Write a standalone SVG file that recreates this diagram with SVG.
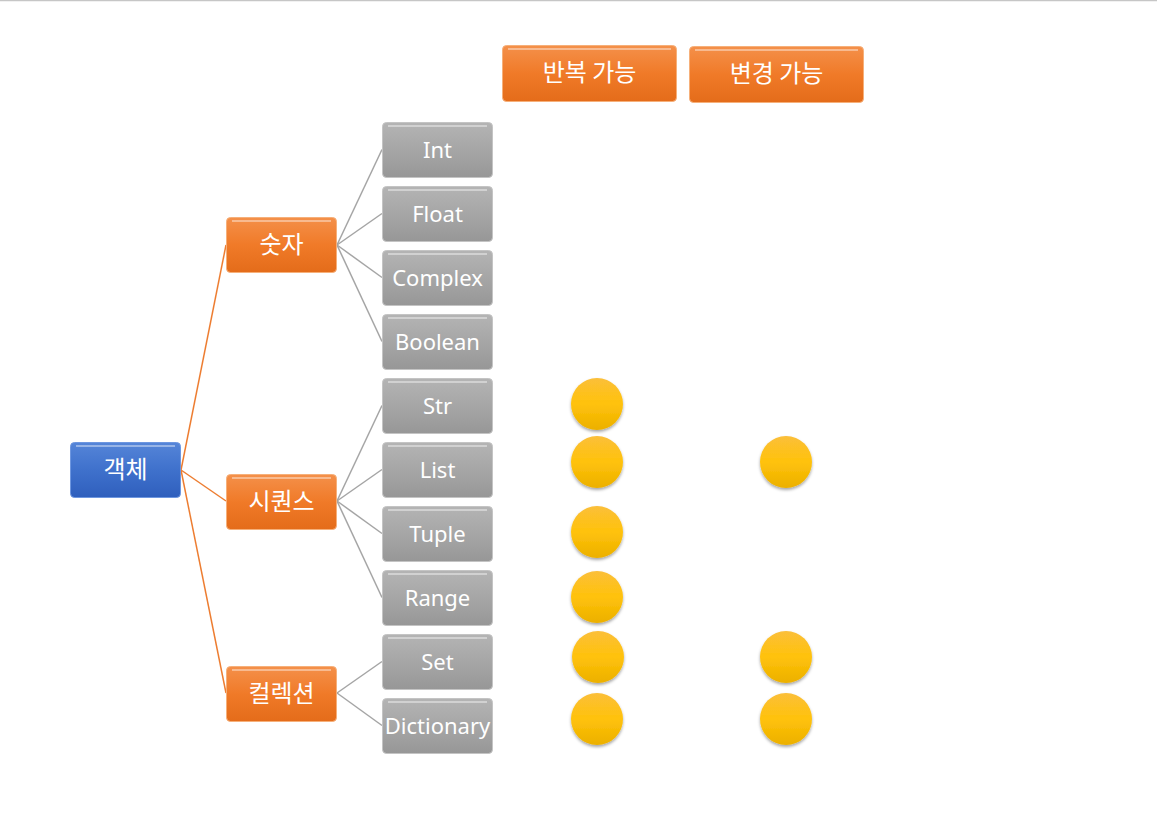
<svg xmlns="http://www.w3.org/2000/svg" width="1157" height="819" viewBox="0 0 1157 819">
<defs>
<linearGradient id="gO" x1="0" y1="0" x2="0" y2="1">
<stop offset="0" stop-color="#f4904a"/><stop offset="0.5" stop-color="#f07a28"/><stop offset="1" stop-color="#e46c1a"/>
</linearGradient>
<linearGradient id="gG" x1="0" y1="0" x2="0" y2="1">
<stop offset="0" stop-color="#b4b4b4"/><stop offset="0.5" stop-color="#a6a6a6"/><stop offset="1" stop-color="#979797"/>
</linearGradient>
<linearGradient id="gB" x1="0" y1="0" x2="0" y2="1">
<stop offset="0" stop-color="#5585d8"/><stop offset="0.5" stop-color="#3f71cc"/><stop offset="1" stop-color="#2f5fbd"/>
</linearGradient>
<linearGradient id="gY" x1="0" y1="0" x2="0" y2="1">
<stop offset="0" stop-color="#fbbf3a"/><stop offset="0.5" stop-color="#ffc20a"/><stop offset="1" stop-color="#ecb000"/>
</linearGradient>
<filter id="sh" x="-30%" y="-30%" width="160%" height="170%">
<feDropShadow dx="0" dy="2" stdDeviation="1.8" flood-color="#000" flood-opacity="0.35"/>
</filter>
</defs>
<style>
.o{fill:url(#gO);stroke:#f6b07a;stroke-width:1}
.g{fill:url(#gG);stroke:#c4c4c4;stroke-width:1}
.b{fill:url(#gB);stroke:#6e97e0;stroke-width:1}
.hl{fill:none;stroke:#ffffff;stroke-opacity:0.4;stroke-width:2}
.t{font-family:"Noto Sans","Noto Sans CJK KR",sans-serif;font-size:22px;fill:#ffffff;text-anchor:middle}
.k{font-family:"Noto Sans CJK KR","Noto Sans",sans-serif;font-size:24px;fill:#ffffff;text-anchor:middle}
.lo{stroke:#ed7d31;stroke-width:1.5;fill:none}
.lg{stroke:#a5a5a5;stroke-width:1.5;fill:none}
.c{fill:url(#gY);filter:url(#sh)}
</style>
<line x1="0" y1="0.5" x2="1157" y2="0.5" stroke="#c6c6c6" stroke-width="1.5"/>
<g id="connectors">
<line class="lo" x1="181" y1="470" x2="226" y2="245"/>
<line class="lo" x1="181" y1="470" x2="226" y2="501"/>
<line class="lo" x1="181" y1="470" x2="226" y2="693"/>
<line class="lg" x1="337" y1="245" x2="382" y2="149.5"/>
<line class="lg" x1="337" y1="245" x2="382" y2="213.5"/>
<line class="lg" x1="337" y1="245" x2="382" y2="277.5"/>
<line class="lg" x1="337" y1="245" x2="382" y2="341.5"/>
<line class="lg" x1="337" y1="501" x2="382" y2="405.5"/>
<line class="lg" x1="337" y1="501" x2="382" y2="469.5"/>
<line class="lg" x1="337" y1="501" x2="382" y2="533.5"/>
<line class="lg" x1="337" y1="501" x2="382" y2="597.5"/>
<line class="lg" x1="337" y1="693" x2="382" y2="661.5"/>
<line class="lg" x1="337" y1="693" x2="382" y2="725.5"/>
</g>
<g id="n-obj"><rect class="b" x="70.5" y="442.5" width="110" height="55" rx="4"/><line class="hl" x1="76" y1="446" x2="175" y2="446"/><text class="k" x="125.5" y="478">객체</text></g>
<g id="n-num"><rect class="o" x="226.5" y="217.5" width="110" height="55" rx="4"/><line class="hl" x1="232" y1="221" x2="331" y2="221"/><text class="k" x="281.5" y="253">숫자</text></g>
<g id="n-seq"><rect class="o" x="226.5" y="474.5" width="110" height="55" rx="4"/><line class="hl" x1="232" y1="478" x2="331" y2="478"/><text class="k" x="281.5" y="510">시퀀스</text></g>
<g id="n-col"><rect class="o" x="226.5" y="666.5" width="110" height="55" rx="4"/><line class="hl" x1="232" y1="670" x2="331" y2="670"/><text class="k" x="281.5" y="702">컬렉션</text></g>
<g id="n-iter"><rect class="o" x="502.5" y="45.5" width="174" height="56" rx="4"/><line class="hl" x1="508" y1="49" x2="671" y2="49"/><text class="k" x="589.5" y="81">반복 가능</text></g>
<g id="n-mut"><rect class="o" x="689.5" y="46.5" width="174" height="56" rx="4"/><line class="hl" x1="695" y1="50" x2="858" y2="50"/><text class="k" x="776.5" y="82">변경 가능</text></g>
<g id="n-int"><rect class="g" x="382.5" y="122.5" width="110" height="55" rx="4"/><line class="hl" x1="388" y1="126" x2="487" y2="126"/><text class="t" x="437.5" y="158">Int</text></g>
<g id="n-float"><rect class="g" x="382.5" y="186.5" width="110" height="55" rx="4"/><line class="hl" x1="388" y1="190" x2="487" y2="190"/><text class="t" x="437.5" y="222">Float</text></g>
<g id="n-complex"><rect class="g" x="382.5" y="250.5" width="110" height="55" rx="4"/><line class="hl" x1="388" y1="254" x2="487" y2="254"/><text class="t" x="437.5" y="286">Complex</text></g>
<g id="n-bool"><rect class="g" x="382.5" y="314.5" width="110" height="55" rx="4"/><line class="hl" x1="388" y1="318" x2="487" y2="318"/><text class="t" x="437.5" y="350">Boolean</text></g>
<g id="n-str"><rect class="g" x="382.5" y="378.5" width="110" height="55" rx="4"/><line class="hl" x1="388" y1="382" x2="487" y2="382"/><text class="t" x="437.5" y="414">Str</text></g>
<g id="n-list"><rect class="g" x="382.5" y="442.5" width="110" height="55" rx="4"/><line class="hl" x1="388" y1="446" x2="487" y2="446"/><text class="t" x="437.5" y="478">List</text></g>
<g id="n-tuple"><rect class="g" x="382.5" y="506.5" width="110" height="55" rx="4"/><line class="hl" x1="388" y1="510" x2="487" y2="510"/><text class="t" x="437.5" y="542">Tuple</text></g>
<g id="n-range"><rect class="g" x="382.5" y="570.5" width="110" height="55" rx="4"/><line class="hl" x1="388" y1="574" x2="487" y2="574"/><text class="t" x="437.5" y="606">Range</text></g>
<g id="n-set"><rect class="g" x="382.5" y="634.5" width="110" height="55" rx="4"/><line class="hl" x1="388" y1="638" x2="487" y2="638"/><text class="t" x="437.5" y="670">Set</text></g>
<g id="n-dict"><rect class="g" x="382.5" y="698.5" width="110" height="55" rx="4"/><line class="hl" x1="388" y1="702" x2="487" y2="702"/><text class="t" x="437.5" y="734">Dictionary</text></g>
<g id="marks">
<circle class="c" cx="597" cy="404" r="26"/>
<circle class="c" cx="597" cy="462" r="26"/>
<circle class="c" cx="786" cy="462" r="26"/>
<circle class="c" cx="597" cy="532" r="26"/>
<circle class="c" cx="597" cy="597" r="26"/>
<circle class="c" cx="598" cy="657" r="26"/>
<circle class="c" cx="786" cy="657" r="26"/>
<circle class="c" cx="597" cy="719" r="26"/>
<circle class="c" cx="786" cy="719" r="26"/>
</g>
</svg>
